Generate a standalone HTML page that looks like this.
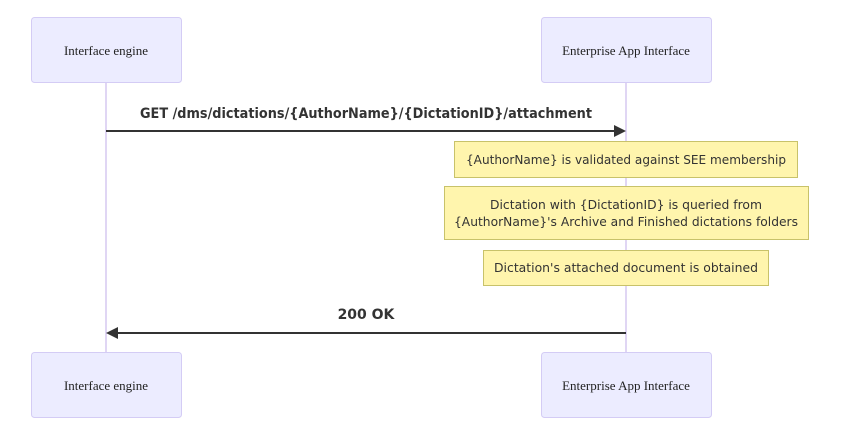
<!DOCTYPE html>
<html><head><meta charset="utf-8"><style>
html,body{margin:0;padding:0;background:#fff;width:852px;height:434px;overflow:hidden}
</style></head><body>
<svg width="852" height="434" viewBox="0 0 852 434" xmlns="http://www.w3.org/2000/svg">
<line x1="106" y1="82" x2="106" y2="353" stroke="#d6c8f0" stroke-width="1.5"/>
<line x1="626" y1="82" x2="626" y2="353" stroke="#d6c8f0" stroke-width="1.5"/>
<g fill="#ececff" stroke="#d4ccf5" stroke-width="1">
<rect x="31.5" y="17.5" width="150" height="65" rx="3"/>
<rect x="541.5" y="17.5" width="170" height="65" rx="3"/>
<rect x="31.5" y="352.5" width="150" height="65" rx="3"/>
<rect x="541.5" y="352.5" width="170" height="65" rx="3"/>
</g>
<g font-family="Liberation Serif, serif" font-size="13" fill="#222" text-anchor="middle">
<text x="106" y="55">Interface engine</text>
<text x="626" y="55">Enterprise App Interface</text>
<text x="106" y="390">Interface engine</text>
<text x="626" y="390">Enterprise App Interface</text>
</g>
<g font-family="DejaVu Sans, sans-serif" font-weight="bold" font-size="14" fill="#333" text-anchor="middle">
<text x="366" y="118" textLength="452" lengthAdjust="spacingAndGlyphs">GET /dms/dictations/{AuthorName}/{DictationID}/attachment</text>
<text x="366" y="319">200 OK</text>
</g>
<line x1="106" y1="131" x2="618" y2="131" stroke="#333" stroke-width="2"/>
<path d="M626 131 L614 125 L614 137 Z" fill="#333"/>
<line x1="114" y1="333" x2="626" y2="333" stroke="#333" stroke-width="2"/>
<path d="M106 333 L118 327 L118 339 Z" fill="#333"/>
<g fill="#fff5ad" stroke="#c8c26a" stroke-width="1">
<rect x="454.5" y="141.5" width="343" height="36"/>
<rect x="444.5" y="186.5" width="364" height="53"/>
<rect x="483.5" y="250.5" width="285" height="35"/>
</g>
<g font-family="DejaVu Sans, sans-serif" font-size="12" fill="#333" text-anchor="middle">
<text x="626" y="164" textLength="320" lengthAdjust="spacingAndGlyphs">{AuthorName} is validated against SEE membership</text>
<text x="626" y="209" textLength="272" lengthAdjust="spacingAndGlyphs">Dictation with {DictationID} is queried from</text>
<text x="626" y="226" textLength="344" lengthAdjust="spacingAndGlyphs">{AuthorName}'s Archive and Finished dictations folders</text>
<text x="626" y="272" textLength="264" lengthAdjust="spacingAndGlyphs">Dictation's attached document is obtained</text>
</g>
</svg>
</body></html>
